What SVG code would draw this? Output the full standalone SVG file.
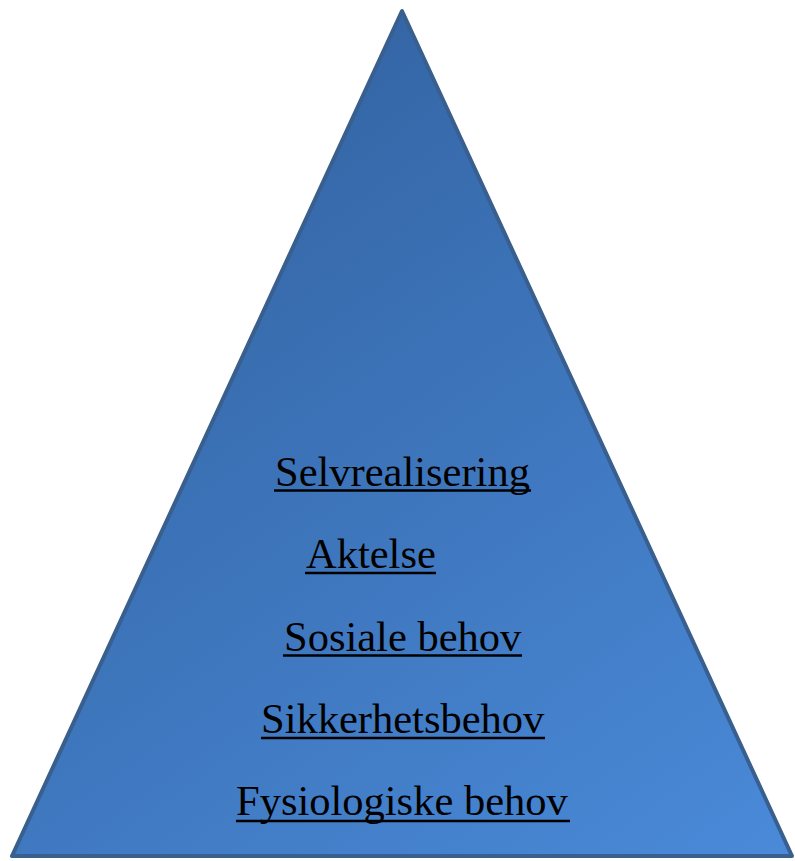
<svg xmlns="http://www.w3.org/2000/svg" width="795" height="861" viewBox="0 0 795 861">
  <defs>
    <linearGradient id="fillGrad" gradientUnits="userSpaceOnUse" x1="200" y1="10" x2="792" y2="857">
      <stop offset="0" stop-color="#3262a0"/>
      <stop offset="1" stop-color="#4a8ad9"/>
    </linearGradient>
    <style>
      .lbl { font-family: "Liberation Serif", "Times New Roman", serif; font-size: 42.5px; fill: #000; }
      .ul { stroke: #000; stroke-width: 2.5; }
    </style>
  </defs>
  <rect width="795" height="861" fill="#ffffff"/>
  <g id="pyramid">
    <polygon points="402,11 12,856 792,856" fill="url(#fillGrad)" stroke="#385f8e" stroke-width="4" stroke-linejoin="round"/>
  </g>
  <g id="level-selvrealisering">
    <text class="lbl" x="275" y="486">Selvrealisering</text>
    <line class="ul" x1="274" y1="490.5" x2="531" y2="490.5"/>
  </g>
  <g id="level-aktelse">
    <text class="lbl" x="306" y="568">Aktelse</text>
    <line class="ul" x1="305" y1="573" x2="436" y2="573"/>
  </g>
  <g id="level-sosiale">
    <text class="lbl" x="284" y="651">Sosiale behov</text>
    <line class="ul" x1="283" y1="655.5" x2="522" y2="655.5"/>
  </g>
  <g id="level-sikkerhet">
    <text class="lbl" x="261" y="733">Sikkerhetsbehov</text>
    <line class="ul" x1="261" y1="738" x2="545" y2="738"/>
  </g>
  <g id="level-fysiologiske">
    <text class="lbl" x="236" y="815">Fysiologiske behov</text>
    <line class="ul" x1="236" y1="821" x2="570" y2="821"/>
  </g>
</svg>
